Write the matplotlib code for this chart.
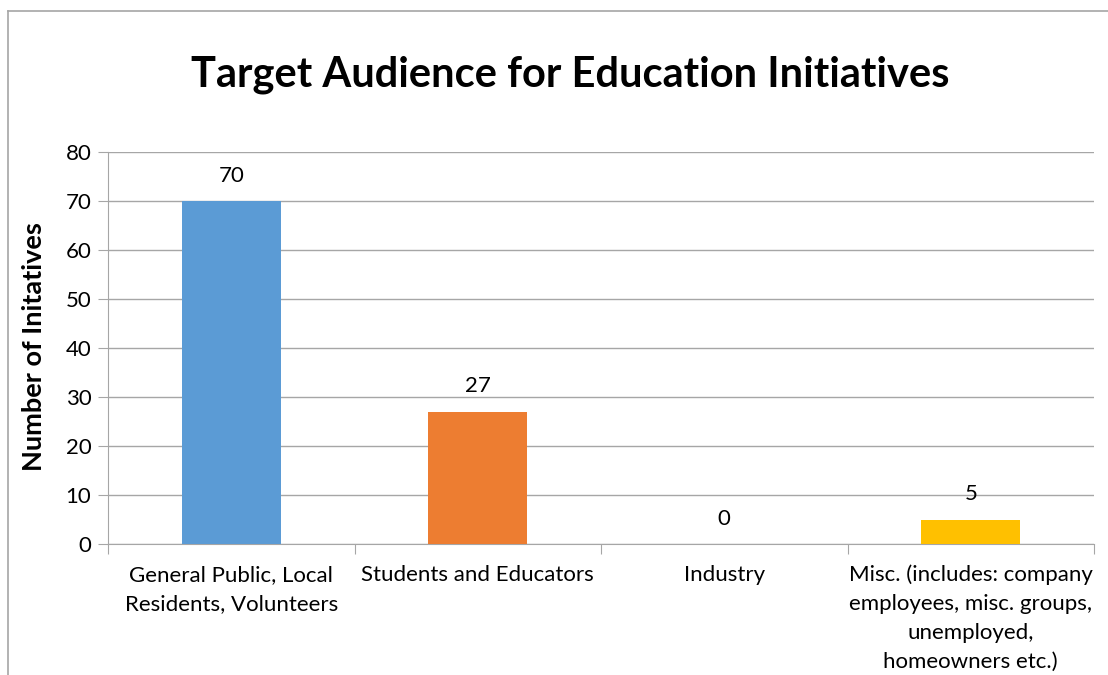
import matplotlib.pyplot as plt
from matplotlib.lines import Line2D

plt.rcParams['font.family'] = ['Lato', 'DejaVu Sans']

categories = ['General Public, Local\nResidents, Volunteers',
              'Students and Educators',
              'Industry',
              'Misc. (includes: company\nemployees, misc. groups,\nunemployed,\nhomeowners etc.)']
counts = [70, 27, 0, 5]
colors = ['#5B9BD5', '#ED7D31', '#A5A5A5', '#FFC000']

axis_gray = '#A6A6A6'
W, H = 1108, 675

fig = plt.figure(figsize=(W / 100, H / 100), dpi=100)
ax = fig.add_axes([108 / W, 1 - 544 / H, (1094 - 108) / W, (544 - 152) / H])

x = list(range(len(categories)))
ax.bar(x, counts, width=0.4, color=colors, zorder=3)
for xi, v in zip(x, counts):
    ax.annotate(str(v), (xi, v), xytext=(0, 11), textcoords='offset points',
                ha='center', va='bottom', fontsize=16)

ax.set_xlim(-0.5, len(categories) - 0.5)
ax.set_ylim(0, 80)
ax.set_yticks(range(0, 81, 10))
ax.tick_params(axis='y', labelsize=16, length=7, color=axis_gray, pad=5)

# category labels sit between the boundary ticks
ax.set_xticks([i - 0.5 for i in range(len(categories) + 1)])
ax.set_xticklabels([])
ax.set_xticks(x, minor=True)
ax.set_xticklabels(categories, minor=True, fontsize=16, linespacing=1.55)
ax.tick_params(axis='x', which='major', length=7, color=axis_gray)
ax.tick_params(axis='x', which='minor', length=0, pad=15)

ax.grid(axis='y', color=axis_gray, linewidth=1, zorder=0)
for side in ['top', 'right']:
    ax.spines[side].set_visible(False)
for side in ['left', 'bottom']:
    ax.spines[side].set_color(axis_gray)

fig.text(34 / W, 1 - 347 / H, 'Number of Initatives', rotation=90,
         ha='center', va='center', fontsize=19.5, fontweight='bold')
fig.text(570 / W, 1 - 75 / H, 'Target Audience for Education Initiatives',
         ha='center', va='center', fontsize=30, fontweight='bold')

# chart border
fig.add_artist(Line2D([7.5 / W, 7.5 / W], [0, 1 - 10.5 / H],
                      transform=fig.transFigure, color=axis_gray, linewidth=1.2))
fig.add_artist(Line2D([7.5 / W, 1], [1 - 10.5 / H, 1 - 10.5 / H],
                      transform=fig.transFigure, color=axis_gray, linewidth=1.2))

fig.savefig('out.png', dpi=100)
